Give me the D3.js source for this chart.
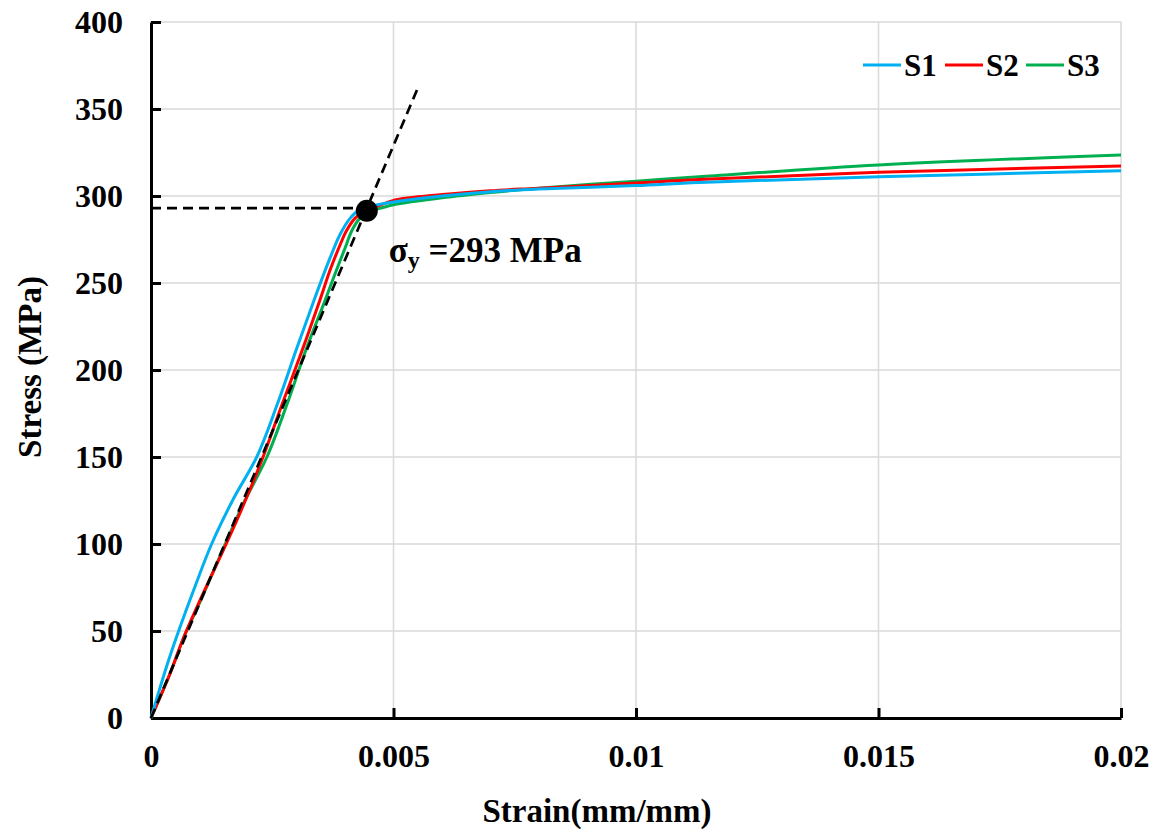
<!DOCTYPE html>
<html>
<head>
<meta charset="utf-8">
<script src="https://cdn.jsdelivr.net/npm/d3@7"></script>
<style>
  body { margin: 0; background: #fff; }
  svg text { font-family: "Liberation Serif", "Times New Roman", serif; font-weight: bold; fill: #000; }
</style>
</head>
<body>
<svg id="chart" width="1161" height="833"></svg>
<script>
// stress-strain curves, values (strain mm/mm, stress MPa)
const s1Strain = [0, 0.00032, 0.00057, 0.0009, 0.00125, 0.0017, 0.00218, 0.0026, 0.003, 0.00336, 0.0037, 0.0039, 0.0041, 0.0043, 0.0046, 0.005, 0.006, 0.007, 0.008, 0.01, 0.0113, 0.015, 0.02];
const s1Stress = [0, 29.5, 50, 75, 100, 126, 150, 180, 212, 240, 265, 278, 287, 292, 294.5, 296.5, 300, 302.5, 304, 306, 307.8, 311, 314.5];
const s2Strain = [0, 0.0004, 0.00067, 0.001, 0.00155, 0.0019, 0.00231, 0.0027, 0.0031, 0.00348, 0.0037, 0.0039, 0.00403, 0.0042, 0.0044, 0.0047, 0.005, 0.006, 0.007, 0.008, 0.01, 0.0113, 0.015, 0.02];
const s2Stress = [0, 26, 46, 67, 100, 122, 150, 180, 210, 240, 258, 272, 280, 287, 291.5, 294.5, 297.5, 300.8, 303, 304.5, 307.5, 309.5, 313.6, 317.2];
const s3Strain = [0, 0.0004, 0.00067, 0.001, 0.00153, 0.0019, 0.00239, 0.0028, 0.0032, 0.00359, 0.00375, 0.004, 0.00414, 0.0043, 0.0045, 0.0048, 0.005, 0.006, 0.007, 0.008, 0.01, 0.0113, 0.015, 0.02];
const s3Stress = [0, 26, 46, 66, 100, 123, 150, 180, 212, 240, 252, 270, 280, 287, 291, 293.5, 295, 299, 302, 304.5, 308.5, 311, 317.8, 323.6];
const seriesNames = ["S1", "S2", "S3"];
const seriesColors = ["#00b0f0", "#ff0000", "#00b050"];
const xTicks = [0, 0.005, 0.01, 0.015, 0.02];
const yTicks = [0, 50, 100, 150, 200, 250, 300, 350, 400];
// elastic line and yield point
const elasticStrain = [0, 0.0055];
const elasticStress = [0, 362];
const yieldStrain = 0.00445;
const yieldStress = 293;
const yieldDotStress = 291.5;

const mar = { top: 22, right: 40, bottom: 115, left: 151 };
const w = 1121 - mar.left;
const h = 718 - mar.top;

const svg = d3.select("#chart");
const g = svg.append("g").attr("transform", `translate(${mar.left},${mar.top})`);

const x = d3.scaleLinear().domain([0, 0.02]).range([0, w]);
const y = d3.scaleLinear().domain([0, 400]).range([h, 0]);

// grid
g.append("g").selectAll("line").data(yTicks.slice(1)).enter().append("line")
    .attr("x1", 0).attr("x2", w)
    .attr("y1", d => y(d)).attr("y2", d => y(d))
    .attr("stroke", "#d9d9d9").attr("stroke-width", 1.5);
g.append("g").selectAll("line").data(xTicks.slice(1)).enter().append("line")
    .attr("x1", d => x(d)).attr("x2", d => x(d))
    .attr("y1", 0).attr("y2", h)
    .attr("stroke", "#d9d9d9").attr("stroke-width", 1.5);

// axes
const yAxis = g.append("g")
    .call(d3.axisLeft(y).tickValues(yTicks).tickSize(-10).tickSizeOuter(0).tickPadding(28));
const xAxis = g.append("g")
    .attr("transform", `translate(0,${h})`)
    .call(d3.axisBottom(x).tickValues(xTicks).tickSize(-10).tickSizeOuter(0).tickPadding(26)
        .tickFormat(d => d === 0 ? "0" : String(d)));
[xAxis, yAxis].forEach(a => {
    a.selectAll("path, line").attr("stroke", "#000").attr("stroke-width", 3);
    a.selectAll("text").attr("font-size", "32px").attr("fill", "#000")
        .style("font-family", "'Liberation Serif', serif").style("font-weight", "bold");
});

// curves
const line = d3.line().x(d => x(d[0])).y(d => y(d[1])).curve(d3.curveCatmullRom.alpha(0.5));
const series = [
    d3.zip(s1Strain, s1Stress),
    d3.zip(s2Strain, s2Stress),
    d3.zip(s3Strain, s3Stress)
];
// S3 first so S1 ends up on top
[2, 1, 0].forEach(i => {
    g.append("path")
        .datum(series[i])
        .attr("d", line)
        .attr("fill", "none")
        .attr("stroke", seriesColors[i])
        .attr("stroke-width", 3);
});

// elastic dashed line and yield line
g.append("path")
    .datum(d3.zip(elasticStrain, elasticStress))
    .attr("d", d3.line().x(d => x(d[0])).y(d => y(d[1])))
    .attr("stroke", "#000").attr("stroke-width", 2.7)
    .attr("stroke-dasharray", "10,6").attr("fill", "none");
g.append("line")
    .attr("x1", x(0)).attr("x2", x(yieldStrain) - 8)
    .attr("y1", y(yieldStress)).attr("y2", y(yieldStress))
    .attr("stroke", "#000").attr("stroke-width", 2.7)
    .attr("stroke-dasharray", "10,6");
g.append("circle")
    .attr("cx", x(yieldStrain)).attr("cy", y(yieldDotStress))
    .attr("r", 11).attr("fill", "#000");

const label = g.append("text")
    .attr("x", x(yieldStrain) + 22)
    .attr("y", y(yieldDotStress) + 51)
    .attr("font-size", "35px");
label.append("tspan").text("σ");
label.append("tspan").attr("font-size", "24px").attr("dy", 6).text("y");
label.append("tspan").attr("dy", -6).text(" =293 MPa");

// axis titles
svg.append("text")
    .attr("x", 597).attr("y", 822)
    .attr("text-anchor", "middle")
    .attr("font-size", "33px")
    .text("Strain(mm/mm)");
svg.append("text")
    .attr("transform", "translate(41,367) rotate(-90)")
    .attr("text-anchor", "middle")
    .attr("font-size", "33px")
    .text("Stress (MPa)");

// legend
const leg = svg.append("g").attr("transform", "translate(863,65)");
const legX = [0, 82, 163];
seriesNames.forEach((n, i) => {
    leg.append("line")
        .attr("x1", legX[i]).attr("x2", legX[i] + 38)
        .attr("y1", 0).attr("y2", 0)
        .attr("stroke", seriesColors[i]).attr("stroke-width", 3);
    leg.append("text")
        .attr("x", legX[i] + 41).attr("y", 11)
        .attr("font-size", "31px")
        .text(n);
});
</script>
</body>
</html>
